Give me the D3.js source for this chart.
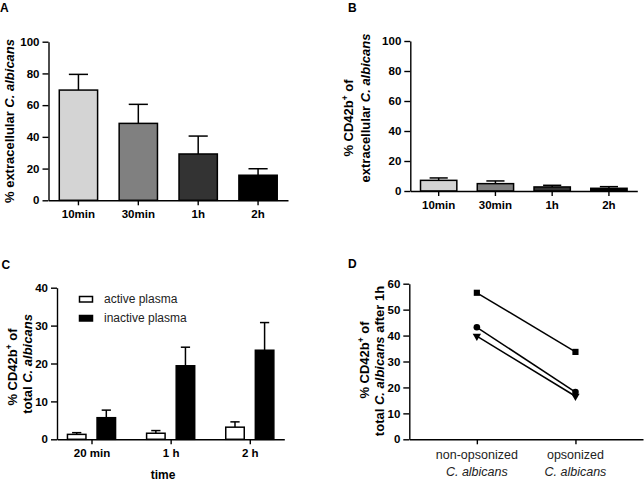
<!DOCTYPE html>
<html><head><meta charset="utf-8">
<script src="https://cdn.jsdelivr.net/npm/d3@7"></script>
<style>
html,body{margin:0;padding:0;background:#fff;}
svg{display:block;font-family:"Liberation Sans",Arial,sans-serif;}
</style></head>
<body>
<svg id="c" width="644" height="481"></svg>
<script>
// ---------- data ----------
const timesAB = ["10min", "30min", "1h", "2h"];
const barColorsAB = ["#d4d4d4", "#808080", "#333333", "#000000"];
const extracellularMean = [69.5, 48.5, 29.2, 15.8];
const extracellularSD = [9.9, 12.0, 11.3, 4.1];
const cd42ExtraMean = [7.1, 4.9, 2.7, 1.8];
const cd42ExtraSD = [1.6, 1.8, 1.1, 1.1];
const ticksAB = [0, 20, 40, 60, 80, 100];

const timesC = ["20 min", "1 h", "2 h"];
const seriesC = ["active plasma", "inactive plasma"];
const activeMean = [1.3, 1.6, 3.2];
const activeSD = [0.45, 0.7, 1.4];
const inactiveMean = [5.7, 19.4, 23.5];
const inactiveSD = [2.0, 4.9, 7.3];
const ticksC = [0, 10, 20, 30, 40];

const conditionsD = ["non-opsonized", "opsonized"];
const donorSquare = [56.5, 33.7];
const donorCircle = [43.2, 18.2];
const donorTriangle = [39.8, 16.6];
const ticksD = [0, 10, 20, 30, 40, 50, 60];

// ---------- helpers ----------
const svg = d3.select("#c");
const F = '"Liberation Sans",Arial,sans-serif';

function styleAxis(g) {
  g.selectAll("path.domain").attr("stroke", "#000").attr("stroke-width", 1.4);
  g.selectAll(".tick line").attr("stroke", "#000").attr("stroke-width", 1.4);
  g.selectAll(".tick text").attr("fill", "#000").attr("font-family", F);
}
function yAxis(y, x0, ticks) {
  const g = svg.append("g").attr("transform", `translate(${x0},0)`)
    .call(d3.axisLeft(y).tickValues(ticks).tickSize(6).tickPadding(3).tickSizeOuter(0));
  styleAxis(g);
  g.selectAll(".tick text").attr("font-size", 11.5).attr("font-weight", "bold");
  return g;
}
function xAxis(x, y0) {
  const g = svg.append("g").attr("transform", `translate(0,${y0})`)
    .call(d3.axisBottom(x).tickSize(5).tickPadding(5).tickSizeOuter(0));
  styleAxis(g);
  g.selectAll(".tick text").attr("font-size", 11.5).attr("font-weight", "bold");
  return g;
}
function panelLabel(t, x, y) {
  svg.append("text").attr("x", x).attr("y", y).text(t)
    .attr("font-size", 12).attr("font-weight", "bold").attr("font-family", F);
}
function yTitle(parts, x, y) {
  const t = svg.append("text").attr("transform", `translate(${x},${y}) rotate(-90)`)
    .attr("text-anchor", "middle").attr("font-size", 13).attr("font-weight", "bold")
    .attr("font-family", F);
  parts.forEach(p => {
    const s = t.append("tspan").text(p.t);
    if (p.i) s.attr("font-style", "italic");
    if (p.sup) s.attr("font-size", 8.5).attr("dy", -5);
    if (p.unsup) s.attr("dy", 5);
  });
  return t;
}
function barPanel(means, sds, x0, x1, yTop, yBot, cats) {
  const x = d3.scaleBand().domain(cats).range([x0, x1]).paddingInner(0.36).paddingOuter(0.18);
  const y = d3.scaleLinear().domain([0, 100]).range([yBot, yTop]);
  const bw = x.bandwidth();
  cats.forEach((c, i) => {
    const cx = x(c) + bw / 2;
    svg.append("line").attr("x1", cx).attr("x2", cx).attr("y1", y(means[i])).attr("y2", y(means[i] + sds[i]))
      .attr("stroke", "#000").attr("stroke-width", 1.5);
    svg.append("line").attr("x1", cx - bw / 4).attr("x2", cx + bw / 4)
      .attr("y1", y(means[i] + sds[i])).attr("y2", y(means[i] + sds[i]))
      .attr("stroke", "#000").attr("stroke-width", 1.5);
    svg.append("rect").attr("x", x(c)).attr("width", bw).attr("y", y(means[i]))
      .attr("height", y(0) - y(means[i])).attr("fill", barColorsAB[i])
      .attr("stroke", "#000").attr("stroke-width", 1.5);
  });
  yAxis(y, x0, ticksAB);
  xAxis(x, yBot);
}

// ---------- Panel A ----------
panelLabel("A", 0, 11.5);
barPanel(extracellularMean, extracellularSD, 48.5, 288, 41.7, 200.3, timesAB);
yTitle([{t: "% extracellular "}, {t: "C. albicans", i: true}], 13.5, 121);

// ---------- Panel B ----------
panelLabel("B", 348, 11.5);
barPanel(cd42ExtraMean, cd42ExtraSD, 410.3, 637.3, 41, 191, timesAB);
yTitle([{t: "% CD42b"}, {t: "+", sup: true}, {t: " of", unsup: true}], 352.5, 118);
yTitle([{t: "extracellular "}, {t: "C. albicans", i: true}], 370, 108);

// ---------- Panel C ----------
panelLabel("C", 1.5, 269);
{
  const x = d3.scalePoint().domain(timesC).range([57, 284.3]).padding(0.436);
  const xs = d3.scaleBand().domain(seriesC).range([-29.6, 29.6]).paddingInner(0.375).paddingOuter(0.1875);
  const y = d3.scaleLinear().domain([0, 40]).range([439.3, 287.7]);
  const bw = xs.bandwidth();
  const sets = [[activeMean, activeSD, "#fff"], [inactiveMean, inactiveSD, "#000"]];
  seriesC.forEach((s, si) => {
    const [m, sd, fill] = sets[si];
    timesC.forEach((t, i) => {
      const bx = x(t) + xs(s);
      const cx = bx + bw / 2;
      svg.append("line").attr("x1", cx).attr("x2", cx).attr("y1", y(m[i])).attr("y2", y(m[i] + sd[i]))
        .attr("stroke", "#000").attr("stroke-width", 1.5);
      svg.append("line").attr("x1", cx - bw / 4).attr("x2", cx + bw / 4)
        .attr("y1", y(m[i] + sd[i])).attr("y2", y(m[i] + sd[i]))
        .attr("stroke", "#000").attr("stroke-width", 1.5);
      svg.append("rect").attr("x", bx).attr("width", bw).attr("y", y(m[i]))
        .attr("height", y(0) - y(m[i])).attr("fill", fill)
        .attr("stroke", "#000").attr("stroke-width", 1.5);
    });
  });
  yAxis(y, 57, ticksC);
  xAxis(x, 439.3);
  const fills = ["#fff", "#000"];
  const ly = [303, 322];
  seriesC.forEach((s, i) => {
    svg.append("rect").attr("x", 79.5).attr("y", ly[i] - 6.5).attr("width", 13).attr("height", 5.5)
      .attr("fill", fills[i]).attr("stroke", "#000").attr("stroke-width", 1.5);
    svg.append("text").attr("x", 104).attr("y", ly[i]).text(s)
      .attr("font-size", 12).attr("font-family", F).attr("fill", "#222");
  });
  svg.append("text").attr("x", 163).attr("y", 479).attr("text-anchor", "middle").text("time")
    .attr("font-size", 12).attr("font-weight", "bold").attr("font-family", F);
  yTitle([{t: "% CD42b"}, {t: "+", sup: true}, {t: " of", unsup: true}], 16.5, 367);
  yTitle([{t: "total "}, {t: "C. albicans", i: true}], 31.5, 364);
}

// ---------- Panel D ----------
panelLabel("D", 348, 268);
{
  const x = d3.scalePoint().domain(conditionsD).range([409.3, 643]).padding(0.685);
  const y = d3.scaleLinear().domain([0, 60]).range([439.3, 283.7]);
  const donors = [
    {v: donorSquare, sym: d3.symbolSquare, size: 38, rot: 0},
    {v: donorCircle, sym: d3.symbolCircle, size: 34, rot: 0},
    {v: donorTriangle, sym: d3.symbolTriangle, size: 30, rot: 180}
  ];
  const line = d3.line().x((d, i) => x(conditionsD[i])).y(d => y(d));
  donors.forEach(dn => {
    svg.append("path").attr("d", line(dn.v)).attr("fill", "none").attr("stroke", "#000").attr("stroke-width", 1.5);
    dn.v.forEach((v, i) => {
      svg.append("path").attr("d", d3.symbol().type(dn.sym).size(dn.size)())
        .attr("transform", `translate(${x(conditionsD[i])},${y(v)}) rotate(${dn.rot})`)
        .attr("fill", "#000");
    });
  });
  yAxis(y, 409.3, ticksD);
  const gx = svg.append("g").attr("transform", "translate(0,439.3)")
    .call(d3.axisBottom(x).tickSize(5).tickFormat("").tickSizeOuter(0));
  styleAxis(gx);
  conditionsD.forEach(c => {
    const t = svg.append("text").attr("text-anchor", "middle").attr("font-size", 12.5)
      .attr("font-family", F).attr("fill", "#222");
    t.append("tspan").attr("x", x(c)).attr("y", 459.3).text(c);
    t.append("tspan").attr("x", x(c)).attr("y", 475.7).attr("font-style", "italic").text("C. albicans");
  });
  yTitle([{t: "% CD42b"}, {t: "+", sup: true}, {t: " of", unsup: true}], 368.5, 360);
  yTitle([{t: "total "}, {t: "C. albicans", i: true}, {t: " after 1h"}], 383.5, 361);
}
</script>
</body></html>
